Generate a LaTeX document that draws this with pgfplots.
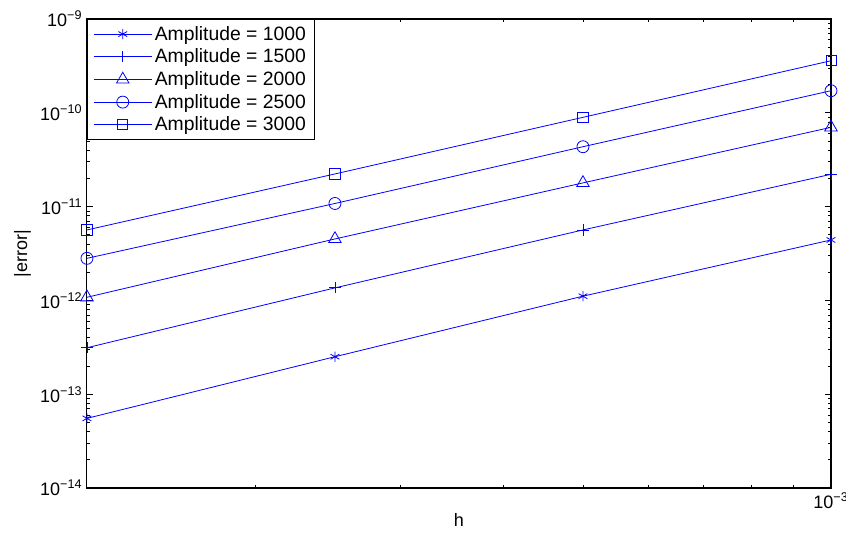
\documentclass[border=0pt]{standalone}
\usepackage{pgfplots}
\pgfplotsset{compat=1.18}
\usepackage{fontspec}
\setmainfont{Liberation Sans}
\pgfplotstableread{
h       a1000    a1500    a2000    a2500    a3000
1.25e-4 5.53e-14 3.13e-13 1.08e-12 2.81e-12 5.64e-12
2.5e-4  2.51e-13 1.36e-12 4.52e-12 1.08e-11 2.23e-11
5e-4    1.11e-12 5.64e-12 1.79e-11 4.35e-11 8.95e-11
1e-3    4.41e-12 2.21e-11 7.0e-11  1.72e-10 3.59e-10
}\datatable
\begin{document}
\begin{tikzpicture}
\begin{axis}[
  at={(0pt,0pt)}, anchor=south west,
  scale only axis, width=558pt, height=351.75pt,
  xmode=log, ymode=log,
  xmin=1.25e-4, xmax=1e-3, ymin=1e-14, ymax=1e-9,
  xtick={1e-3}, xticklabels={10\textsuperscript{−3}},
  minor xtick={2e-4,3e-4,4e-4,5e-4,6e-4,7e-4,8e-4,9e-4},
  ytick={1e-14,1e-13,1e-12,1e-11,1e-10,1e-9},
  yticklabels={10\textsuperscript{−14},10\textsuperscript{−13},10\textsuperscript{−12},10\textsuperscript{−11},10\textsuperscript{−10},10\textsuperscript{−9}},
  minor ytick={2e-14,3e-14,4e-14,5e-14,6e-14,7e-14,8e-14,9e-14,
               2e-13,3e-13,4e-13,5e-13,6e-13,7e-13,8e-13,9e-13,
               2e-12,3e-12,4e-12,5e-12,6e-12,7e-12,8e-12,9e-12,
               2e-11,3e-11,4e-11,5e-11,6e-11,7e-11,8e-11,9e-11,
               2e-10,3e-10,4e-10,5e-10,6e-10,7e-10,8e-10,9e-10},
  tick align=inside, xtick pos=both, ytick pos=both,
  xticklabel pos=bottom, yticklabel pos=left,
  major tick length=4.5pt, minor tick length=2.5pt,
  every tick/.style={black, line width=0.6pt},
  axis line style={line width=0.8pt},
  tick label style={font=\fontsize{13.5}{15}\selectfont},
  label style={font=\fontsize{13.5}{15}\selectfont},
  xlabel={h}, ylabel={|error|},
  xlabel style={yshift=3pt},
  clip=false,
  legend image code/.code={\draw[mark repeat=2,mark phase=2,#1] plot coordinates {(0pt,0pt) (21.75pt,0pt) (43.5pt,0pt)};},
  legend style={at={(0,1)}, anchor=north west, draw=black, line width=0.6pt,
    font=\fontsize{14.5}{16}\selectfont, cells={anchor=west},
    inner xsep=4.5pt, inner ysep=3pt, row sep=1pt},
]
\addplot[blue, line width=0.6pt, mark=asterisk, mark size=3.8pt, mark options={solid,blue}] table[x=h,y=a1000] {\datatable};
\addlegendentry{Amplitude = 1000}
\addplot[blue, line width=0.6pt, mark=+, mark size=4.2pt, mark options={solid,blue}] table[x=h,y=a1500] {\datatable};
\addlegendentry{Amplitude = 1500}
\addplot[blue, line width=0.6pt, mark=triangle, mark size=5.4pt, mark options={solid,blue}] table[x=h,y=a2000] {\datatable};
\addlegendentry{Amplitude = 2000}
\addplot[blue, line width=0.6pt, mark=o, mark size=4.5pt, mark options={solid,blue}] table[x=h,y=a2500] {\datatable};
\addlegendentry{Amplitude = 2500}
\addplot[blue, line width=0.6pt, mark=square, mark size=3.8pt, mark options={solid,blue}] table[x=h,y=a3000] {\datatable};
\addlegendentry{Amplitude = 3000}
\end{axis}
\pgfresetboundingbox
\useasboundingbox (-65.25pt,-35.25pt) rectangle (569.25pt,366pt);
\end{tikzpicture}
\end{document}
